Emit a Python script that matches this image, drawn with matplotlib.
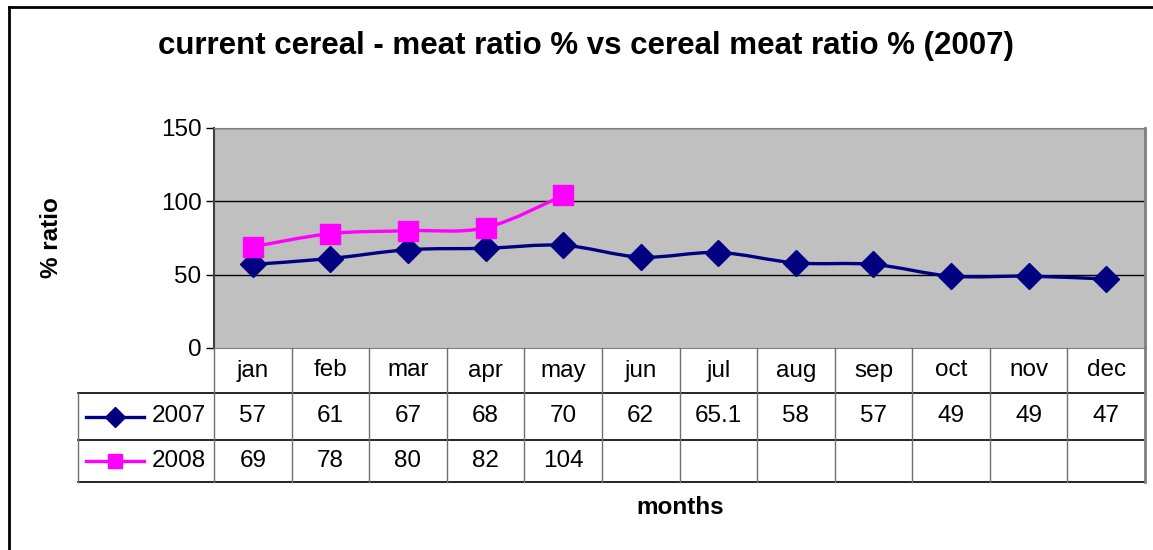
import matplotlib
matplotlib.use("Agg")
import matplotlib.pyplot as plt
from matplotlib.path import Path
from matplotlib.patches import PathPatch
from matplotlib.lines import Line2D
import matplotlib.transforms as mtransforms

plt.rcParams['font.family'] = ['Liberation Sans', 'DejaVu Sans']

months = ['jan', 'feb', 'mar', 'apr', 'may', 'jun', 'jul', 'aug', 'sep', 'oct', 'nov', 'dec']
series_names = ['2007', '2008']
vals_2007 = [57, 61, 67, 68, 70, 62, 65.1, 58, 57, 49, 49, 47]
vals_2008 = [69, 78, 80, 82, 104]
colors = ['#000080', '#FF00FF']
markers = ['D', 's']
yticks = [0, 50, 100, 150]

W, H = 1153, 550
fig = plt.figure(figsize=(W / 100, H / 100), dpi=100)

# plot area in pixels: x 214..1145, y 128..348
px0, px1, py0, py1 = 214, 1145, 128, 348
ax = fig.add_axes([px0 / W, 1 - py1 / H, (px1 - px0) / W, (py1 - py0) / H])
ax.set_facecolor('#C0C0C0')
ax.set_xlim(-0.5, len(months) - 0.5)
ax.set_ylim(0, 150)
ax.set_yticks(yticks)
ax.set_xticks([])
ax.tick_params(axis='y', labelsize=17.5, length=6, width=1, pad=3)
for v in yticks[1:]:
    ax.axhline(v, color='black', lw=1, zorder=1)
for s in ['top', 'right', 'bottom']:
    ax.spines[s].set_color('#808080')
ax.spines['right'].set_linewidth(2)
ax.spines['left'].set_color('#404040')
ax.spines['left'].set_linewidth(1.5)


def smooth_path(xs, ys):
    # excel style bezier smoothing
    pts = list(zip(xs, ys))
    verts = [pts[0]]
    codes = [Path.MOVETO]
    n = len(pts)
    for i in range(n - 1):
        p0 = pts[i - 1] if i > 0 else pts[i]
        p1 = pts[i]
        p2 = pts[i + 1]
        p3 = pts[i + 2] if i + 2 < n else pts[i + 1]
        c1 = (p1[0] + (p2[0] - p0[0]) / 6, p1[1] + (p2[1] - p0[1]) / 6)
        c2 = (p2[0] - (p3[0] - p1[0]) / 6, p2[1] - (p3[1] - p1[1]) / 6)
        verts += [c1, c2, p2]
        codes += [Path.CURVE4] * 3
    return Path(verts, codes)


for vals, c, m in zip([vals_2007, vals_2008], colors, markers):
    xs = list(range(len(vals)))
    ax.add_patch(PathPatch(smooth_path(xs, vals), fill=False, edgecolor=c, lw=2.4, zorder=3))
    ax.plot(xs, vals, ls='none', marker=m, color=c, ms=13 if m == 'D' else 14, zorder=4)

# data table below the axes
trans = mtransforms.blended_transform_factory(ax.transData, fig.transFigure)


def fy(py):
    return 1 - py / H


row_y = [348, 393, 440, 482]
left_x = -0.5 - (px0 - 78) / ((px1 - px0) / len(months))
grid_col = '#707070'
right_x = len(months) - 0.5

for k in (1, 2, 3):
    fig.add_artist(Line2D([left_x, right_x], [fy(row_y[k])] * 2, transform=trans, color='black', lw=1.2))
for i in range(len(months)):
    fig.add_artist(Line2D([i - 0.5] * 2, [fy(row_y[0]), fy(row_y[3])], transform=trans, color=grid_col, lw=1))
fig.add_artist(Line2D([right_x] * 2, [fy(row_y[0]), fy(row_y[3])], transform=trans, color='#808080', lw=2))
fig.add_artist(Line2D([left_x] * 2, [fy(row_y[1]), fy(row_y[3])], transform=trans, color=grid_col, lw=1))

for i, mth in enumerate(months):
    fig.text(i, fy((row_y[0] + row_y[1]) / 2), mth, transform=trans, ha='center', va='center', fontsize=17.5)

for r, (name, vals, c, m) in enumerate(zip(series_names, [vals_2007, vals_2008], colors, markers)):
    yc = fy((row_y[r + 1] + row_y[r + 2]) / 2)
    for i, v in enumerate(vals):
        fig.text(i, yc, f'{v:g}', transform=trans, ha='center', va='center', fontsize=17.5)
    fig.text(206 / W, yc, name, ha='right', va='center', fontsize=17.5)
    fig.add_artist(Line2D([86 / W, 144 / W], [yc, yc], color=c, lw=2.4))
    fig.add_artist(Line2D([115 / W], [yc], marker=m, color=c, ms=10, ls='none'))

fig.text(586 / W, 1 - 46 / H, 'current cereal - meat ratio % vs cereal meat ratio % (2007)',
         ha='center', va='center', fontsize=22.5, fontweight='bold')
fig.text(52 / W, 1 - 238 / H, '% ratio', rotation=90, ha='center', va='center', fontsize=17.5, fontweight='bold')
fig.text(680 / W, 1 - 507 / H, 'months', ha='center', va='center', fontsize=17.5, fontweight='bold')

# chart frame (top and left edges visible)
fig.add_artist(Line2D([9 / W, 1.0], [fy(6.5)] * 2, color='black', lw=2))
fig.add_artist(Line2D([9 / W] * 2, [fy(6.5), 0.0], color='black', lw=2))

fig.savefig('out.png', dpi=100)
